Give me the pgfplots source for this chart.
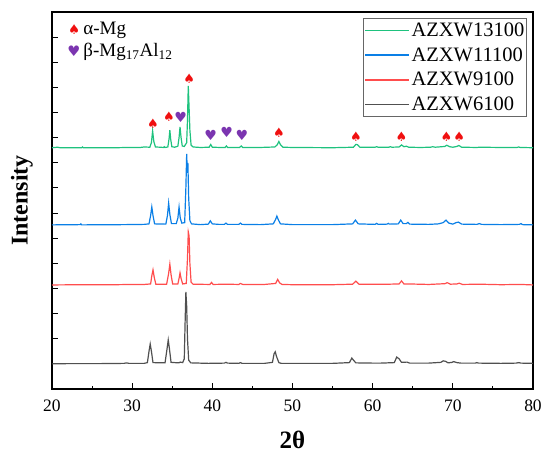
\documentclass[border=0pt]{standalone}
\usepackage{pgfplots}
\pgfplotsset{compat=1.18}
\usepackage{fontspec}
\setmainfont{Liberation Serif}
\newfontfamily\symfont{DejaVu Sans}
\definecolor{cgreen}{HTML}{1EC27E}
\definecolor{cblue}{HTML}{0A7FE6}
\definecolor{cred}{HTML}{FF4D4D}
\definecolor{cgray}{HTML}{505050}
\definecolor{cpurple}{HTML}{7B35B0}
\definecolor{cspade}{HTML}{F01010}
\begin{document}
\begin{tikzpicture}
\begin{axis}[
  scale only axis, width=481pt, height=377pt,
  xmin=20, xmax=80, ymin=0, ymax=15,
  xtick={20,30,...,80}, minor x tick num=1,
  ytick={1,2,...,14}, yticklabels={},
  tick align=inside, xtick pos=lower, ytick pos=left,
  major tick length=6.5pt, minor tick length=3.5pt,
  axis line style={line width=1.3pt},
  every tick/.style={black, line width=0.9pt},
  /pgf/number format/assume math mode=true,
  xticklabel style={font=\fontsize{17.5}{20}\selectfont, anchor=base, yshift=-22pt, inner sep=0pt},
  xlabel={\textbf{2θ}},
  xlabel style={font=\fontsize{25}{28}\selectfont, at={(axis description cs:0.5,-0.159)}, anchor=base, inner sep=0pt},
  ylabel={\textbf{Intensity}},
  ylabel style={font=\fontsize{24}{28}\selectfont, at={(axis description cs:-0.0395,0.5)}, anchor=south, inner sep=0pt},
  legend cell align=left,
  legend image code/.code={\draw[#1, line width=1.4pt] (0pt,0pt) -- (44pt,0pt);},
  legend style={at={(0.988,0.984)}, anchor=north east, draw=gray!80!black, line width=0.9pt,
    font=\fontsize{20.5}{23}\selectfont, row sep=6.5pt, inner xsep=1pt, inner ysep=3pt,
    nodes={inner sep=1.5pt}},
]
% green
\addplot[cgreen, line width=1.2pt] coordinates {
(20,9.60)(20.7,9.62)(21,9.60)(23.7,9.60)(23.8,9.63)(23.9,9.60)(28,9.60)(29.5,9.61)(31.0,9.61)(31.5,9.63)
(32.2,9.62)(32.4,9.80)(32.55,10.27)(32.7,9.85)(32.9,9.63)(33.5,9.62)(33.9,9.61)(34.0,9.64)(34.1,9.61)
(34.45,9.63)(34.6,9.95)(34.7,10.30)(34.8,9.95)(34.95,9.64)(35.3,9.62)(35.5,9.64)(35.7,9.66)(35.85,10.0)
(35.97,10.43)(36.1,10.0)(36.25,9.67)(36.5,9.65)(36.8,9.8)(36.9,10.7)(37.0,12.06)(37.1,11.2)(37.2,10.3)
(37.35,9.7)(37.6,9.63)(38.5,9.61)(39.6,9.62)(39.8,9.73)(40.0,9.62)(41.0,9.61)(41.6,9.61)(41.75,9.67)
(41.9,9.61)(43.4,9.61)(43.6,9.67)(43.8,9.61)(46.0,9.61)(47.8,9.63)(48.1,9.72)(48.3,9.85)(48.5,9.72)
(48.8,9.62)(50,9.61)(55,9.60)(57.6,9.62)(57.9,9.73)(58.1,9.72)(58.4,9.62)(60.3,9.62)(60.5,9.64)(60.7,9.62)
(62.0,9.62)(62.2,9.64)(62.4,9.62)(63.3,9.63)(63.6,9.71)(63.9,9.64)(64.2,9.66)(64.5,9.62)(66,9.61)
(67.2,9.62)(67.5,9.64)(67.8,9.62)(69.0,9.65)(69.25,9.70)(69.6,9.64)(70.0,9.62)(70.5,9.65)(70.75,9.69)
(71.1,9.62)(73.0,9.61)(73.3,9.62)(76,9.61)(78,9.61)(78.2,9.63)(78.4,9.61)(80,9.60)};
\addlegendentry{AZXW13100}
% blue
\addplot[cblue, line width=1.2pt] coordinates {
(20,6.53)(23.5,6.54)(23.6,6.57)(23.7,6.53)(29,6.54)(31.5,6.55)(32.1,6.57)(32.3,6.9)(32.45,7.24)(32.6,6.9)
(32.8,6.57)(34.2,6.56)(34.4,6.9)(34.55,7.40)(34.7,6.95)(34.9,6.58)(35.5,6.58)(35.7,6.8)(35.85,7.24)
(36.0,6.8)(36.2,6.6)(36.55,6.62)(36.7,8.0)(36.8,9.35)(36.88,8.6)(36.95,9.0)(37.05,7.6)(37.2,6.7)(37.4,6.57)
(38.5,6.54)(39.5,6.56)(39.75,6.69)(40.0,6.57)(40.8,6.55)(41.5,6.55)(41.7,6.6)(41.9,6.55)(43.3,6.55)
(43.5,6.6)(43.7,6.55)(46,6.54)(47.6,6.57)(47.9,6.75)(48.05,6.88)(48.25,6.72)(48.5,6.57)(50,6.54)(55,6.54)
(57.5,6.57)(57.85,6.72)(58.2,6.57)(60.3,6.55)(60.5,6.59)(60.7,6.55)(61.8,6.56)(61.95,6.59)(62.1,6.56)
(63.2,6.57)(63.5,6.72)(63.8,6.58)(64.2,6.58)(64.4,6.63)(64.6,6.56)(67,6.55)(68.2,6.57)(68.8,6.62)
(69.15,6.72)(69.5,6.6)(70.0,6.56)(70.4,6.62)(70.7,6.64)(71.1,6.56)(73.0,6.55)(73.3,6.58)(73.6,6.55)
(76,6.54)(78.3,6.55)(78.5,6.58)(78.7,6.54)(80,6.53)};
\addlegendentry{AZXW11100}
% red
\addplot[cred, line width=1.2pt] coordinates {
(20,4.14)(24,4.15)(28,4.15)(30,4.16)(31.5,4.16)(32.3,4.18)(32.45,4.5)(32.6,4.74)(32.75,4.45)(32.95,4.17)
(34.3,4.17)(34.55,4.6)(34.7,4.97)(34.85,4.55)(35.05,4.18)(35.7,4.18)(35.85,4.4)(35.97,4.62)(36.1,4.4)
(36.3,4.18)(36.75,4.2)(36.9,5.2)(37.0,6.25)(37.1,6.1)(37.2,5.0)(37.35,4.25)(37.6,4.17)(39.7,4.16)
(39.9,4.24)(40.1,4.16)(41.7,4.17)(43.3,4.16)(43.5,4.2)(43.8,4.16)(46.5,4.16)(47.9,4.2)(48.15,4.36)
(48.4,4.22)(48.7,4.16)(50,4.15)(55,4.15)(57.5,4.17)(57.9,4.29)(58.3,4.17)(60.5,4.17)(62,4.17)(63.3,4.18)
(63.6,4.3)(63.9,4.18)(64.5,4.18)(67,4.16)(69.0,4.19)(69.3,4.23)(69.7,4.17)(70.5,4.18)(70.8,4.21)
(71.2,4.16)(73.3,4.17)(76,4.15)(78.5,4.16)(80,4.14)};
\addlegendentry{AZXW9100}
% gray
\addplot[cgray, line width=1.2pt] coordinates {
(20,1.0)(22,1.01)(26,1.01)(29,1.02)(29.3,1.04)(29.6,1.02)(31.5,1.02)(31.9,1.05)(32.1,1.5)(32.25,1.79)
(32.4,1.5)(32.6,1.05)(34.1,1.04)(34.35,1.6)(34.5,1.95)(34.65,1.6)(34.85,1.06)(35.8,1.04)(36.0,1.07)
(36.3,1.05)(36.5,1.2)(36.6,2.6)(36.7,3.86)(36.8,3.3)(36.9,2.0)(37.05,1.15)(37.3,1.04)(39.5,1.02)
(41.5,1.03)(41.7,1.06)(41.9,1.03)(43.3,1.02)(43.5,1.05)(43.7,1.02)(46.5,1.02)(47.5,1.06)(47.7,1.4)
(47.85,1.48)(48.0,1.3)(48.3,1.05)(48.6,1.02)(50,1.02)(55,1.02)(57.1,1.05)(57.4,1.23)(57.6,1.15)
(57.9,1.04)(60,1.03)(61,1.03)(62.7,1.05)(63.0,1.27)(63.3,1.2)(63.6,1.06)(64.3,1.07)(64.6,1.03)(67,1.03)
(68.5,1.06)(68.8,1.12)(69.1,1.1)(69.4,1.04)(69.9,1.06)(70.1,1.09)(70.5,1.05)(71,1.03)(72.8,1.03)
(73.0,1.05)(73.2,1.03)(76,1.02)(77.9,1.03)(78.2,1.05)(78.5,1.03)(80,1.02)};
\addlegendentry{AZXW6100}
% phase markers
\addplot[draw=none, forget plot, nodes near coords={\symfont\fontsize{13}{13}\selectfont\textcolor{cspade}{♠}},
  every node near coord/.append style={anchor=center, inner sep=0pt}] coordinates {
(32.6,10.55)(34.6,10.82)(37.1,12.33)(48.3,10.19)(57.9,10.03)(63.6,10.03)(69.2,10.03)(70.8,10.03)};
\addplot[draw=none, forget plot, nodes near coords={\symfont\fontsize{14}{14}\selectfont\textcolor{cpurple}{♥}},
  every node near coord/.append style={anchor=center, inner sep=0pt}] coordinates {
(36.05,10.82)(39.8,10.1)(41.8,10.19)(43.7,10.1)};
\node[anchor=base west, inner sep=0pt, font=\fontsize{19}{21}\selectfont] at (axis cs:22.0,14.1)
  {{\symfont\fontsize{13.5}{13.5}\selectfont\textcolor{cspade}{♠}}\hspace{3pt}α-Mg};
\node[anchor=base west, inner sep=0pt, font=\fontsize{19}{21}\selectfont] at (axis cs:21.9,13.22)
  {{\symfont\fontsize{14.5}{14.5}\selectfont\textcolor{cpurple}{♥}}\hspace{3pt}β-Mg\textsubscript{17}Al\textsubscript{12}};
\end{axis}
\path (current axis.south west) ++(-52pt,-70pt) rectangle ++(550pt,459pt);
\end{tikzpicture}
\end{document}
